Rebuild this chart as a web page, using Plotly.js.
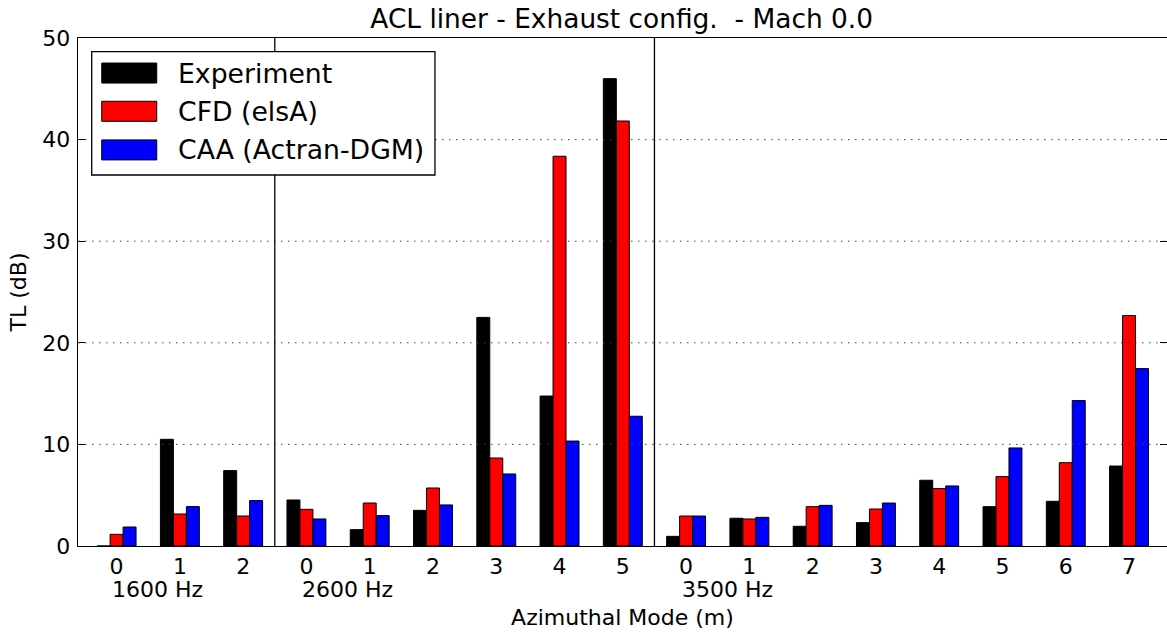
<!DOCTYPE html>
<html>
<head>
<meta charset="utf-8">
<script src="https://cdn.plot.ly/plotly-3.0.1.min.js"></script>
<style>html,body{margin:0;padding:0;background:#fff;}</style>
</head>
<body>
<div id="chart" style="width:1167px;height:632px;"></div>
<script>
// ---- Data ----
const modeLabels = ['0','1','2','0','1','2','3','4','5','0','1','2','3','4','5','6','7'];
const freqLabels = ['1600 Hz','1600 Hz','1600 Hz',
                    '2600 Hz','2600 Hz','2600 Hz','2600 Hz','2600 Hz','2600 Hz',
                    '3500 Hz','3500 Hz','3500 Hz','3500 Hz','3500 Hz','3500 Hz','3500 Hz','3500 Hz'];
const experiment = [0, 10.5, 7.42, 4.53, 1.61, 3.51, 22.5, 14.76, 46.0, 0.95, 2.73, 1.94, 2.3, 6.47, 3.87, 4.4, 7.87];
const cfdElsA    = [1.15, 3.15, 2.95, 3.61, 4.23, 5.71, 8.66, 38.36, 41.83, 2.95, 2.66, 3.87, 3.64, 5.65, 6.83, 8.2, 22.68];
const caaActran  = [1.87, 3.88, 4.47, 2.66, 2.99, 4.04, 7.09, 10.33, 12.77, 2.95, 2.82, 4.0, 4.23, 5.91, 9.65, 14.31, 17.46];
const seriesNames = ['Experiment', 'CFD (elsA)', 'CAA (Actran-DGM)'];
const yTicks = [0, 10, 20, 30, 40, 50];

// ---- Styling ----
const FONT = 'DejaVu Sans, Liberation Sans, sans-serif';
const colors = ['#000000', '#ff0000', '#0000ff'];
const idx = modeLabels.map((_, i) => i);
const values = [experiment, cfdElsA, caaActran];

const traces = values.map((v, k) => ({
  type: 'bar',
  name: seriesNames[k],
  x: idx,
  y: v,
  marker: {color: colors[k], line: {color: '#000', width: 1}},
  showlegend: false,
  hoverinfo: 'name+y'
}));

const shapes = [];
const annotations = [];

// dotted grid drawn above the bars (as in the reference)
yTicks.filter(t => t > 0 && t < 50).forEach(t => {
  shapes.push({type: 'line', xref: 'paper', yref: 'y', x0: 0, x1: 1, y0: t, y1: t,
    layer: 'above', line: {color: '#444', width: 1, dash: '1.5px,5.5px'}});
});

// separators between frequency groups + frequency labels
freqLabels.forEach((f, i) => {
  if (i > 0 && f !== freqLabels[i - 1]) {
    shapes.push({type: 'line', xref: 'x', yref: 'y', x0: i - 0.5, x1: i - 0.5, y0: 0, y1: 50,
      layer: 'above', line: {color: '#000', width: 1.3}});
  }
  if (i === 0 || f !== freqLabels[i - 1]) {
    annotations.push({xref: 'x', yref: 'paper', x: i + 0.65, y: -0.0855, text: f,
      showarrow: false, xanchor: 'center', yanchor: 'middle', borderpad: 0, borderwidth: 0,
      font: {family: FONT, size: 22, color: '#000'}});
  }
});

// custom legend (box, swatches, labels)
const legX0 = 0.0126, legX1 = 0.3278, legY0 = 0.7303, legY1 = 0.973;
shapes.push({type: 'rect', xref: 'paper', yref: 'paper', x0: legX0, x1: legX1, y0: legY0, y1: legY1,
  layer: 'above', fillcolor: '#fff', line: {color: '#000', width: 1.3}});
const rowCenters = [0.9310, 0.8557, 0.7797];
seriesNames.forEach((n, k) => {
  const yc = rowCenters[k];
  shapes.push({type: 'rect', xref: 'paper', yref: 'paper', x0: 0.0218, x1: 0.0723,
    y0: yc - 0.0197, y1: yc + 0.0197, layer: 'above', fillcolor: colors[k],
    line: {color: '#000', width: 1}});
  annotations.push({xref: 'paper', yref: 'paper', x: 0.0903, y: yc, text: n,
    showarrow: false, xanchor: 'left', yanchor: 'middle',
    font: {family: FONT, size: 26.7, color: '#000'}});
});

const layout = {
  width: 1167, height: 632,
  margin: {l: 78, r: 0, t: 38, b: 86},
  paper_bgcolor: '#fff', plot_bgcolor: '#fff',
  font: {family: FONT, color: '#000', size: 22},
  title: {text: 'ACL liner - Exhaust config.&nbsp; - Mach 0.0', x: 0.5327, xanchor: 'center',
    y: 1 - 19 / 632, yanchor: 'middle', yref: 'container',
    font: {family: FONT, size: 26.4, color: '#000'}},
  barmode: 'group', bargap: 0.385, bargroupgap: 0,
  xaxis: {
    range: [-0.61, 16.6], tickmode: 'array', tickvals: idx, ticktext: modeLabels,
    ticks: '', showgrid: false, zeroline: false, showline: true, mirror: true,
    linecolor: '#000', linewidth: 1.3, ticklabelstandoff: 0,
    tickfont: {family: FONT, size: 22, color: '#000'},
    title: {text: 'Azimuthal Mode (m)', standoff: 32, font: {family: FONT, size: 22, color: '#000'}}
  },
  yaxis: {
    range: [0, 50], tickmode: 'array', tickvals: yTicks,
    ticks: 'inside', ticklen: 7, tickcolor: '#000', tickwidth: 1,
    showgrid: false, zeroline: false, showline: true, mirror: 'ticks',
    linecolor: '#000', linewidth: 1.3, ticklabelstandoff: 2,
    tickfont: {family: FONT, size: 22, color: '#000'},
    title: {text: 'TL (dB)', standoff: 9, font: {family: FONT, size: 22, color: '#000'}}
  },
  shapes: shapes,
  annotations: annotations,
  showlegend: false
};

Plotly.newPlot('chart', traces, layout, {displayModeBar: false, staticPlot: true});
</script>
</body>
</html>
